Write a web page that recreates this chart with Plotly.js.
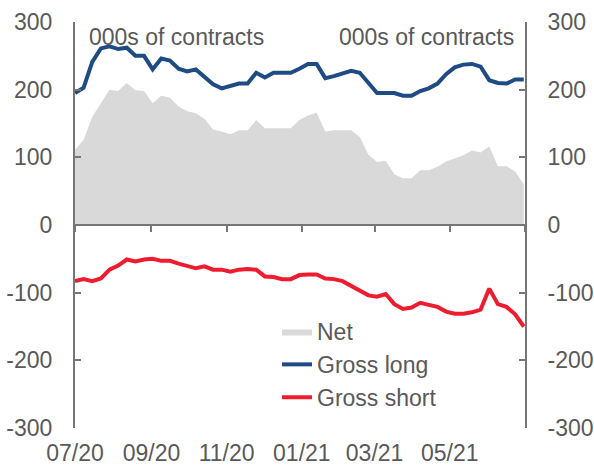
<!DOCTYPE html>
<html>
<head>
<meta charset="utf-8">
<script src="https://cdn.plot.ly/plotly-3.0.1.min.js"></script>
<style>html,body{margin:0;padding:0;background:#fff;}#chart{width:594px;height:467px;}</style>
</head>
<body>
<div id="chart"></div>
<script>
const dates = [
  '2020-07-01','2020-07-08','2020-07-15','2020-07-22','2020-07-29',
  '2020-08-05','2020-08-12','2020-08-19','2020-08-26',
  '2020-09-02','2020-09-09','2020-09-16','2020-09-23','2020-09-30',
  '2020-10-07','2020-10-14','2020-10-21','2020-10-28',
  '2020-11-04','2020-11-11','2020-11-18','2020-11-25',
  '2020-12-02','2020-12-09','2020-12-16','2020-12-23','2020-12-30',
  '2021-01-06','2021-01-13','2021-01-20','2021-01-27',
  '2021-02-03','2021-02-10','2021-02-17','2021-02-24',
  '2021-03-03','2021-03-10','2021-03-17','2021-03-24','2021-03-31',
  '2021-04-07','2021-04-14','2021-04-21','2021-04-28',
  '2021-05-05','2021-05-12','2021-05-19','2021-05-26',
  '2021-06-02','2021-06-09','2021-06-16','2021-06-23','2021-06-30'
];
const netValues = [111,126,160,181,200,198,210,199,198,180,
  191,188,175,168,165,157,141,138,134,140,
  140,155,143,143,143,143,155,162,166,138,
  140,140,140,130,104,93,95,75,69,69,
  81,81,86,94,99,103,110,107,116,87,
  87,79,60];
const grossLong = [195,203,241,261,264,260,262,250,250,230,
  246,243,231,227,230,218,208,202,205,209,
  209,225,218,225,225,225,231,238,238,217,
  220,224,228,225,210,195,195,195,191,191,
  198,202,209,223,233,237,238,234,214,210,
  209,215,215];
const grossShort = [-83,-80,-83,-79,-66,-60,-51,-54,-51,-50,
  -53,-53,-57,-60,-64,-61,-66,-66,-69,-66,
  -65,-66,-76,-77,-80,-80,-74,-73,-73,-79,
  -80,-83,-90,-96,-104,-106,-102,-117,-124,-122,
  -115,-118,-121,-128,-131,-131,-129,-125,-94,-117,
  -121,-132,-150];
const seriesNames = ['Net','Gross long','Gross short'];
const unitLabel = '000s of contracts';
const yTicks = [-300,-200,-100,0,100,200,300];
const yTickText = ['-300','-200','-100','0','100','200','300'];
const xTickVals = ['2020-07-01','2020-09-01','2020-11-01','2021-01-01','2021-03-01','2021-05-01'];
const xTickText = ['07/20','09/20','11/20','01/21','03/21','05/21'];
const xRange = ['2020-07-01','2021-07-01'];

const W = 594, H = 467;
const plotL = 75, plotR = 525, plotT = 22, plotB = 428;
const txt = '#595959', axisCol = '#767676';
const font = {family:'"Liberation Sans", Arial, sans-serif', size:23, color:txt};

const traces = [
  {x:dates, y:netValues, name:seriesNames[0], type:'scatter', mode:'lines',
   xaxis:'x', yaxis:'y',
   fill:'tozeroy', fillcolor:'#D9D9D9', line:{width:0, color:'#D9D9D9'}},
  {x:dates, y:grossLong, name:seriesNames[1], type:'scatter', mode:'lines',
   xaxis:'x', yaxis:'y2',
   line:{width:4, color:'#1F4B85'}},
  {x:dates, y:grossShort, name:seriesNames[2], type:'scatter', mode:'lines',
   xaxis:'x2', yaxis:'y',
   line:{width:4, color:'#EE1C2E'}}
];

const yDom = [1 - plotB/H, 1 - plotT/H];
const zeroPos = 1 - (plotT + (plotB-plotT)/2)/H;

const layout = {
  width:W, height:H,
  margin:{l:0, r:0, t:0, b:0},
  paper_bgcolor:'#fff', plot_bgcolor:'rgba(0,0,0,0)',
  font:font,
  showlegend:true,
  legend:{x:277/W, y:1-310/H, xanchor:'left', yanchor:'top', bgcolor:'rgba(0,0,0,0)',
          font:font, tracegroupgap:0, itemwidth:30},
  xaxis:{type:'date', domain:[plotL/W, plotR/W], range:xRange, anchor:'free', position:zeroPos,
         showline:true, linecolor:axisCol, linewidth:2, ticks:'outside', ticklen:6, tickwidth:2,
         tickcolor:axisCol, dtick:'M2', tick0:'2020-07-01', showticklabels:false,
         showgrid:false, zeroline:false, fixedrange:true},
  xaxis2:{type:'date', overlaying:'x', domain:[plotL/W, plotR/W], range:xRange, anchor:'free',
          position:1-437/H, showline:false, ticks:'', tickmode:'array', tickvals:xTickVals,
          ticktext:xTickText, showgrid:false, zeroline:false, tickfont:font},
  yaxis:{domain:yDom, range:[-300,300], tickvals:yTicks, ticktext:yTickText, showline:true,
         linecolor:axisCol, linewidth:2, ticks:'inside', ticklen:6, tickwidth:2, tickcolor:axisCol,
         showgrid:false, zeroline:false, tickfont:font, ticklabelstandoff:16},
  yaxis2:{domain:yDom, range:[-300,300], tickvals:yTicks, ticktext:yTickText, overlaying:'y',
          side:'right', anchor:'x', showline:true, linecolor:axisCol, linewidth:2, ticks:'inside',
          ticklen:6, tickwidth:2, tickcolor:axisCol, showgrid:false, zeroline:false,
          tickfont:font, ticklabelstandoff:16},
  annotations:[
    {text:unitLabel, xref:'paper', yref:'paper', x:87/W, y:1-37/H, xanchor:'left',
     yanchor:'middle', showarrow:false, font:font},
    {text:unitLabel, xref:'paper', yref:'paper', x:516/W, y:1-37/H, xanchor:'right',
     yanchor:'middle', showarrow:false, font:font}
  ]
};

Plotly.newPlot('chart', traces, layout, {staticPlot:true, displayModeBar:false});
</script>
</body>
</html>
